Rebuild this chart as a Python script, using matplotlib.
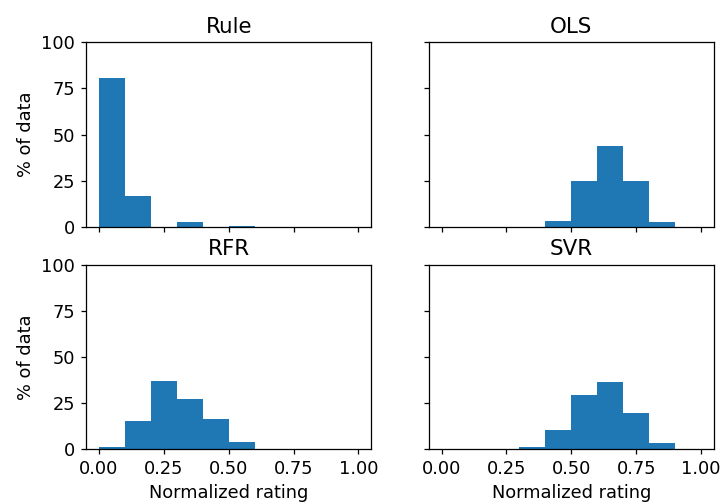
import numpy as np
import matplotlib
matplotlib.use("Agg")
import matplotlib.pyplot as plt

# Histogram bins of the normalized rating (width 0.1 on [0, 1])
bin_edges = np.round(np.arange(0.0, 1.01, 0.1), 2)

# Percentage of data in each bin, per model
rule_pct = [80.4, 16.5, 0.0, 2.7, 0.0, 0.2, 0.0, 0.0, 0.0, 0.0]
ols_pct = [0.0, 0.0, 0.0, 0.0, 3.2, 25.0, 43.6, 24.6, 2.7, 0.0]
rfr_pct = [1.2, 15.1, 36.8, 27.0, 16.2, 4.0, 0.0, 0.0, 0.0, 0.0]
svr_pct = [0.0, 0.0, 0.0, 1.3, 10.4, 29.4, 36.6, 19.8, 3.4, 0.0]

model_names = ["Rule", "OLS", "RFR", "SVR"]
model_pcts = [rule_pct, ols_pct, rfr_pct, svr_pct]

y_ticks = [0, 25, 50, 75, 100]
x_ticks = [0.0, 0.25, 0.5, 0.75, 1.0]

plt.rcParams.update({
    "font.size": 11.3,
    "axes.titlesize": 13.6,
    "axes.labelsize": 11.3,
    "xtick.labelsize": 11.3,
    "ytick.labelsize": 11.3,
})

dpi = 113
fig, axes = plt.subplots(2, 2, sharex=True, sharey=True,
                         figsize=(722 / dpi, 504 / dpi), dpi=dpi)
fig.subplots_adjust(left=0.119, right=0.989, top=0.916, bottom=0.109,
                    wspace=0.2, hspace=0.206)

centers = (bin_edges[:-1] + bin_edges[1:]) / 2
for ax, name, pct in zip(axes.flat, model_names, model_pcts):
    ax.hist(centers, bins=bin_edges, weights=pct, color="#1f77b4")
    ax.set_title(name)
    ax.set_ylim(0, 100)
    ax.set_yticks(y_ticks)
    ax.set_xticks(x_ticks)

for ax in axes[:, 0]:
    ax.set_ylabel("% of data")
for ax in axes[1, :]:
    ax.set_xlabel("Normalized rating")

fig.savefig("out.png", dpi=dpi)
